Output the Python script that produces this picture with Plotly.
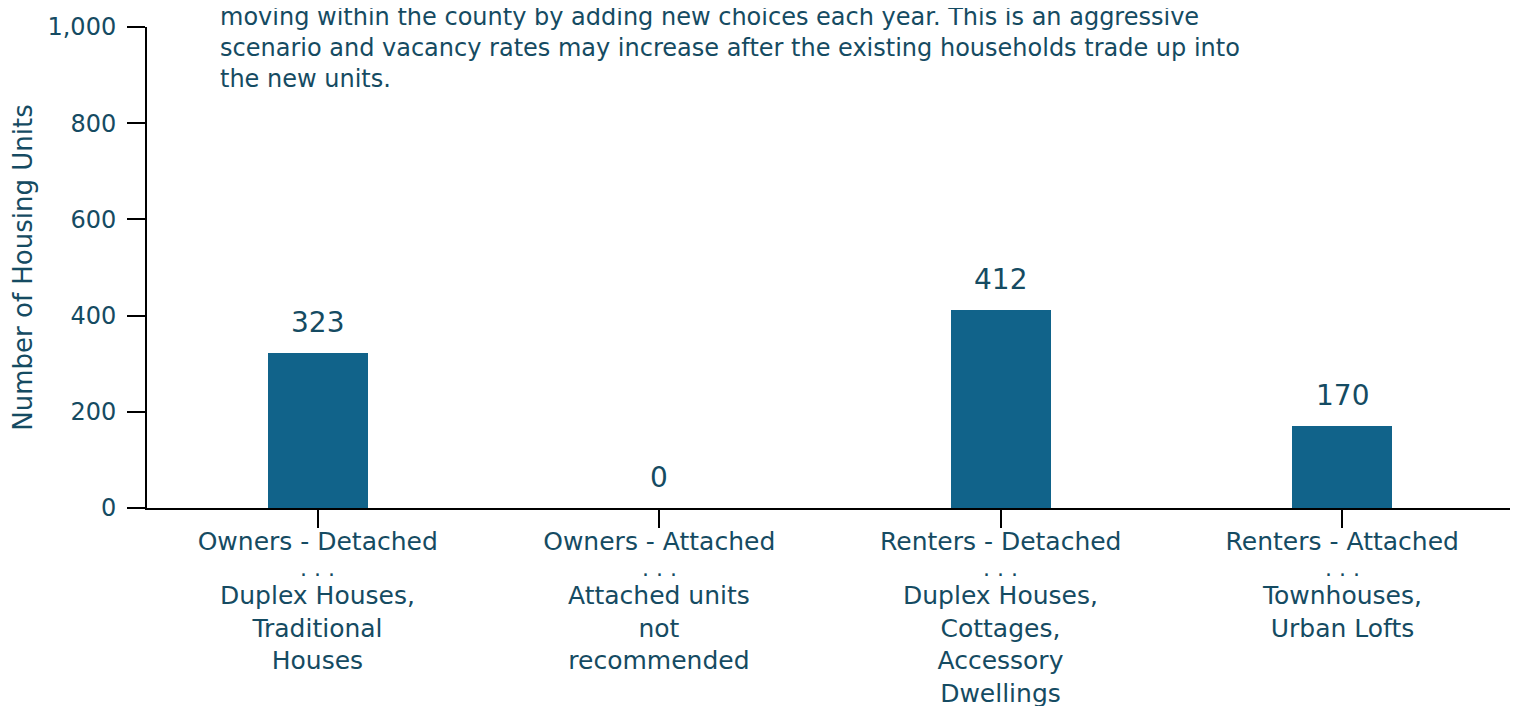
import plotly.graph_objects as go

categories = ["Owners - Detached", "Owners - Attached", "Renters - Detached", "Renters - Attached"]
subtypes = [
    "Duplex Houses,<br>Traditional<br>Houses",
    "Attached units<br>not<br>recommended",
    "Duplex Houses,<br>Cottages,<br>Accessory<br>Dwellings",
    "Townhouses,<br>Urban Lofts",
]
values = [323, 0, 412, 170]
y_ticks = [0, 200, 400, 600, 800, 1000]
y_tick_labels = ["0", "200", "400", "600", "800", "1,000"]
note_lines = [
    "moving within the county by adding new choices each year. This is an aggressive",
    "scenario and vacancy rates may increase after the existing households trade up into",
    "the new units.",
]

TEXT = "#154b62"
BAR = "#11638a"
FONT = "DejaVu Sans"

# pixel helpers for paper coordinates below the plot area (plot spans 481 px)
PLOT_H = 481.0
def below(px):
    return -px / PLOT_H

fig = go.Figure()
fig.add_trace(go.Bar(
    x=categories, y=values, width=0.293,
    marker=dict(color=BAR, line=dict(width=0)),
    hoverinfo="x+y",
))

for c, v in zip(categories, values):
    fig.add_annotation(x=c, y=v, xref="x", yref="y", text=str(v), showarrow=False,
                       yanchor="bottom", yshift=12,
                       font=dict(family=FONT, size=28, color=TEXT))

for c, s in zip(categories, subtypes):
    fig.add_annotation(x=c, y=below(60), xref="x", yref="paper", text=". . .", showarrow=False,
                       yanchor="middle", font=dict(family=FONT, size=22, color=TEXT))
    fig.add_annotation(x=c, y=below(71), xref="x", yref="paper", text=s, showarrow=False,
                       yanchor="top", align="center",
                       font=dict(family=FONT, size=25, color=TEXT))

fig.add_annotation(x=0.052, y=0.858, xref="paper", yref="paper", xanchor="left", yanchor="bottom",
                   align="left", showarrow=False, text="<br>".join(note_lines),
                   font=dict(family=FONT, size=24, color=TEXT))

fig.update_layout(
    width=1510, height=698,
    margin=dict(l=139, r=5, t=19, b=198, autoexpand=False),
    plot_bgcolor="white", paper_bgcolor="white",
    showlegend=False, bargap=0,
    font=dict(family=FONT, color=TEXT),
    xaxis=dict(
        tickmode="array", tickvals=categories, ticktext=categories,
        showline=True, linecolor="black", linewidth=2,
        ticks="outside", ticklen=18, tickwidth=2, tickcolor="black",
        tickfont=dict(family=FONT, size=25, color=TEXT),
        ticklabelstandoff=-8,
        showgrid=False, fixedrange=True, automargin=False,
    ),
    yaxis=dict(
        range=[0, 1000], tickvals=y_ticks, ticktext=y_tick_labels,
        showline=True, linecolor="black", linewidth=2,
        ticks="outside", ticklen=18, tickwidth=2, tickcolor="black",
        tickfont=dict(family=FONT, size=24, color=TEXT),
        ticklabelstandoff=6,
        showgrid=False, zeroline=False, automargin=False,
        title=dict(text="Number of Housing Units", font=dict(family=FONT, size=26, color=TEXT), standoff=18),
    ),
)

fig.write_html("out.html")
